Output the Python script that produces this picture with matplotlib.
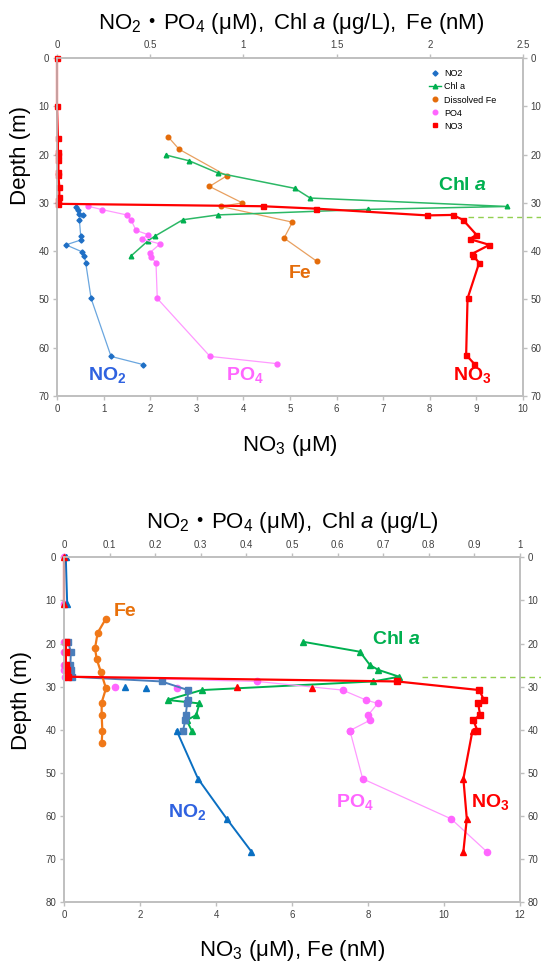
import matplotlib
matplotlib.use("Agg")
import matplotlib.pyplot as plt
from matplotlib.lines import Line2D
from matplotlib.ticker import FuncFormatter, MultipleLocator

plt.rcParams['font.family'] = ['Liberation Sans', 'DejaVu Sans']
plt.rcParams['mathtext.fontset'] = 'custom'
plt.rcParams['mathtext.rm'] = 'Liberation Sans'
plt.rcParams['mathtext.it'] = 'Liberation Sans:italic'
plt.rcParams['mathtext.bf'] = 'Liberation Sans:bold'
plt.rcParams['mathtext.bfit'] = 'Liberation Sans:italic:bold'

# ---------------- upper station ----------------
top_no3_depth = [0, 10, 16.6, 19.4, 20.1, 21.2, 23.6, 24.3, 26.7, 28.8, 29.5, 30.2,
                 30.7, 31.2, 32.6, 32.5, 33.5, 36.6, 37.5, 38.7, 40.6, 41.0, 42.4,
                 49.8, 61.5, 63.3]
top_no3 = [0, 0, 0.02, 0.02, 0.02, 0.03, 0.03, 0.03, 0.05, 0.05, 0.03, 0.02,
           4.41, 5.56, 7.95, 8.49, 8.71, 9.0, 8.86, 9.28, 8.90, 8.93, 9.06,
           8.81, 8.78, 8.95]

top_no2_depth = [30.9, 31.4, 32.3, 32.5, 33.5, 36.8, 37.7, 38.7, 40.1, 41.0, 42.4,
                 49.8, 61.8, 63.5]
top_no2 = [0.102, 0.115, 0.12, 0.141, 0.12, 0.127, 0.127, 0.048, 0.132, 0.147, 0.154,
           0.183, 0.29, 0.463]

top_po4_depth = [30.7, 31.4, 32.5, 33.5, 35.7, 36.6, 37.5, 38.5, 40.3, 41.2, 42.4,
                 49.8, 61.8, 63.3]
top_po4 = [0.168, 0.242, 0.374, 0.397, 0.424, 0.49, 0.454, 0.553, 0.499, 0.504, 0.531,
           0.538, 0.821, 1.18]

top_chl_depth = [20.1, 21.3, 23.8, 27.0, 29.0, 30.75, 31.35, 32.5, 33.5, 36.9, 37.8, 41.0]
top_chl = [0.585, 0.71, 0.862, 1.276, 1.358, 2.414, 1.667, 0.862, 0.675, 0.525, 0.49, 0.397]

top_fe_depth = [16.4, 18.9, 24.4, 26.6, 30.0, 30.75, 34.0, 37.3, 42.1]
top_fe = [0.598, 0.655, 0.911, 0.818, 0.994, 0.88, 1.263, 1.218, 1.394]

top_line_depth = 33.0

# ---------------- lower station ----------------
# cast 1 (squares)
bot_c1_depth = [19.6, 21.9, 25.0, 26.1, 27.7, 28.8, 30.8, 33.1, 33.9, 36.6, 37.8, 40.2]
bot_no2_c1 = [0.009, 0.015, 0.014, 0.015, 0.017, 0.214, 0.272, 0.271, 0.27, 0.267, 0.266, 0.261]
bot_no3_c1 = [0.05, 0.05, 0.05, 0.08, 0.1, 8.77, 10.93, 11.05, 10.9, 10.95, 10.77, 10.88]
bot_po4_c1 = [0.0, 0.0, 0.0, 0.0, 0.003, 0.424, 0.611, 0.662, 0.688, 0.667, 0.671, 0.627]
bot_chl = [0.525, 0.649, 0.671, 0.689, 0.735, 0.678, 0.302, 0.227, 0.297, 0.29, 0.269, 0.28]

# cast 2 (triangles)
bot_c2_depth = [0, 10.8, 30.0, 30.4, 40.2, 51.4, 60.7, 68.3]
bot_no2_c2 = [0.004, 0.007, 0.134, 0.18, 0.247, 0.294, 0.357, 0.411]
bot_no3_c2 = [0.0, 0.0, 4.54, 6.52, 10.75, 10.51, 10.6, 10.51]
bot_po4_c2 = [0.0, 0.0, 0.112, 0.247, 0.627, 0.655, 0.849, 0.927]

bot_fe_depth = [14.3, 17.5, 21.1, 23.6, 26.7, 30.4, 33.7, 36.6, 40.3, 43.1]
bot_fe = [1.097, 0.886, 0.816, 0.86, 0.974, 1.105, 0.991, 0.991, 1.01, 0.991]

bot_line_depth = 27.7

RED = '#ff0000'
GREEN = '#00b050'
PINK = '#ff66ff'
PINK_L = '#ff99ff'
ORANGE = '#e46c0a'
BLUE = '#0a6fc2'
STEEL = '#4a7ebb'
GREY = '#bfbfbf'
DASH = '#92d050'

fmt = FuncFormatter(lambda v, p: f'{v:g}')


def style(ax, axt, ymax, xmax, xstep, tmax, tstep):
    ax.set_ylim(ymax, 0)
    ax.set_xlim(0, xmax)
    axt.set_xlim(0, tmax)
    ax.yaxis.set_major_locator(MultipleLocator(10))
    ax.xaxis.set_major_locator(MultipleLocator(xstep))
    axt.xaxis.set_major_locator(MultipleLocator(tstep))
    for a in (ax, axt):
        a.xaxis.set_major_formatter(fmt)
        for s in a.spines.values():
            s.set_color(GREY)
            s.set_linewidth(1.2)
        a.tick_params(length=3, width=1, color=GREY, labelsize=7,
                      labelcolor='#404040', pad=2.5)
    ax.tick_params(axis='y', right=True, labelright=True)
    ax.set_zorder(axt.get_zorder() + 1)
    ax.patch.set_visible(False)


fig = plt.figure(figsize=(5.41, 9.64), dpi=100)

# ================= upper panel =================
ax = fig.add_axes([57 / 541, 1 - 396 / 964, 466 / 541, 338 / 964])
axt = ax.twiny()
style(ax, axt, 70, 10, 1, 2.5, 0.5)

axt.plot(top_fe, top_fe_depth, color='#e8a060', lw=0.9, marker='o', ms=3.3,
         mfc=ORANGE, mec=ORANGE, clip_on=False)
axt.plot(top_chl, top_chl_depth, color='#2cb866', lw=1.1, marker='^', ms=3.3,
         mfc=GREEN, mec=GREEN, clip_on=False)
axt.plot(top_po4, top_po4_depth, color=PINK_L, lw=0.9, marker='o', ms=3.5,
         mfc=PINK, mec=PINK, clip_on=False)
axt.plot(top_no2, top_no2_depth, color='#6aa6df', lw=0.9, marker='D', ms=2.6,
         mfc='#1f6fc5', mec='#1f6fc5', clip_on=False)
ax.plot(top_no3, top_no3_depth, color=RED, lw=1.6, marker='s', ms=3.6,
        clip_on=False)
ax.plot([0.882, 1.04], [top_line_depth, top_line_depth], color=DASH, lw=1,
        ls=(0, (4, 3)), transform=ax.get_yaxis_transform(), clip_on=False)

handles = [
    Line2D([], [], color='#1f6fc5', marker='D', ms=2.6, ls='none'),
    Line2D([], [], color=GREEN, marker='^', ms=3.3, lw=1),
    Line2D([], [], color=ORANGE, marker='o', ms=3.3, ls='none'),
    Line2D([], [], color=PINK, marker='o', ms=3.3, ls='none'),
    Line2D([], [], color=RED, marker='s', ms=3.3, ls='none'),
]
ax.legend(handles, ['NO2', 'Chl a', 'Dissolved Fe', 'PO4', 'NO3'],
          loc='upper left', bbox_to_anchor=(0.785, 0.985), frameon=False,
          fontsize=6.5, handlelength=1.3, handletextpad=0.4, labelspacing=0.45,
          borderpad=0.2)

lab = dict(transform=ax.transAxes, ha='center', va='center', fontsize=14,
           fontweight='bold')
ax.text(0.871, 0.624, r'Chl $\mathbfit{a}$', color=GREEN, **lab)
ax.text(0.521, 0.361, 'Fe', color=ORANGE, **lab)
ax.text(0.107, 0.062, r'NO$_\mathbf{2}$', color='#2f62e0', **lab)
ax.text(0.403, 0.062, r'PO$_\mathbf{4}$', color=PINK, **lab)
ax.text(0.891, 0.062, r'NO$_\mathbf{3}$', color=RED, **lab)

ax.set_xlabel(r'NO$_3$ (μM)', fontsize=16)
ax.xaxis.set_label_coords(0.5, -0.108)
ax.set_ylabel('Depth (m)', fontsize=16)
ax.yaxis.set_label_coords(-0.055, 0.713)
fig.text(291 / 541, 1 - 29 / 964,
         r'$\mathrm{NO_2}$・$\mathrm{PO_4\ (μM),\ Chl\ }\mathit{a}\mathrm{\ (μg/L),\ Fe\ (nM)}$',
         fontsize=16, family='Noto Sans CJK JP', ha='center', va='baseline')

# ================= lower panel =================
bx = fig.add_axes([64 / 541, 1 - 902 / 964, 456 / 541, 344.6 / 964])
bxt = bx.twiny()
style(bx, bxt, 80, 12, 2, 1, 0.1)

bx.plot(bot_fe, bot_fe_depth, color='#f07818', lw=1.6, marker='o', ms=4.5,
        clip_on=False)
bxt.plot(bot_chl, bot_c1_depth, color=GREEN, lw=1.4, marker='^', ms=4.2,
         clip_on=False)
bxt.plot(bot_po4_c1, bot_c1_depth, color=PINK_L, lw=0.9, marker='o', ms=4.5,
         mfc=PINK, mec=PINK, clip_on=False)
bxt.plot(bot_po4_c2[4:], bot_c2_depth[4:], color=PINK_L, lw=0.9, marker='o', ms=4.5,
         mfc=PINK, mec=PINK, clip_on=False)
bxt.plot(bot_po4_c2[:4], bot_c2_depth[:4], ls='none', marker='o', ms=4.5,
         color=PINK, clip_on=False)
bxt.plot(bot_no2_c1, bot_c1_depth, color=STEEL, lw=1.4, marker='s', ms=4.5,
         clip_on=False)
bxt.plot(bot_no2_c2[:2], bot_c2_depth[:2], color=BLUE, lw=1.4, clip_on=False)
bxt.plot(bot_no2_c2[4:], bot_c2_depth[4:], color=BLUE, lw=1.4, clip_on=False)
bxt.plot(bot_no2_c2, bot_c2_depth, ls='none', marker='^', ms=4.2, color=BLUE,
         clip_on=False)
bx.plot(bot_no3_c1, bot_c1_depth, color=RED, lw=1.6, marker='s', ms=4.5,
        clip_on=False)
bx.plot(bot_no3_c2[:2], bot_c2_depth[:2], color=RED, lw=1.6, clip_on=False)
bx.plot(bot_no3_c2[4:], bot_c2_depth[4:], color=RED, lw=1.6, clip_on=False)
bx.plot(bot_no3_c2, bot_c2_depth, ls='none', marker='^', ms=4.2, color=RED,
        clip_on=False)
bx.plot([0.784, 1.05], [bot_line_depth, bot_line_depth], color=DASH, lw=1,
        ls=(0, (4, 3)), transform=bx.get_yaxis_transform(), clip_on=False)

lab['transform'] = bx.transAxes
bx.text(0.134, 0.842, 'Fe', color='#e8700a', **lab)
bx.text(0.730, 0.763, r'Chl $\mathbfit{a}$', color=GREEN, **lab)
bx.text(0.270, 0.261, r'NO$_\mathbf{2}$', color='#2f62e0', **lab)
bx.text(0.638, 0.290, r'PO$_\mathbf{4}$', color=PINK, **lab)
bx.text(0.934, 0.290, r'NO$_\mathbf{3}$', color=RED, **lab)

bx.set_xlabel(r'NO$_3$ (μM), Fe (nM)', fontsize=16)
bx.xaxis.set_label_coords(0.5, -0.105)
bx.set_ylabel('Depth (m)', fontsize=16)
bx.yaxis.set_label_coords(-0.07, 0.586)
fig.text(292 / 541, 1 - 528 / 964,
         r'$\mathrm{NO_2}$・$\mathrm{PO_4\ (μM),\ Chl\ }\mathit{a}\mathrm{\ (μg/L)}$',
         fontsize=16, family='Noto Sans CJK JP', ha='center', va='baseline')

fig.savefig('out.png', dpi=100)
